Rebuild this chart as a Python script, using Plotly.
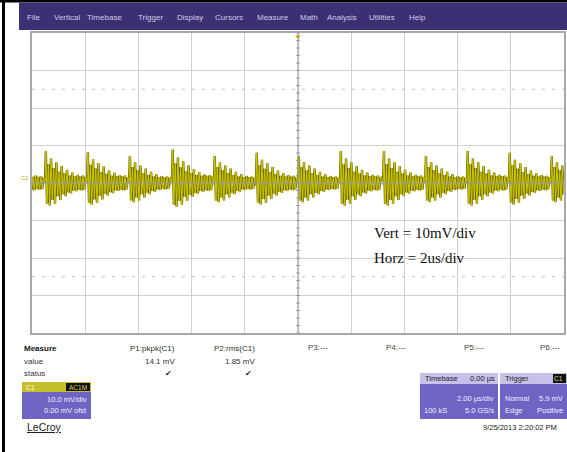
import plotly.graph_objects as go
import numpy as np

W, H = 567, 452

menu_items = ["File", "Vertical", "Timebase", "Trigger", "Display", "Cursors",
              "Measure", "Math", "Analysis", "Utilities", "Help"]
# burst (switching edge) times in microseconds
burst_times_us = [-11.09, -9.51, -7.93, -6.35, -4.74, -3.16, -1.58, 0.0,
                  1.58, 3.20, 4.78, 6.35, 7.93, 9.51]
burst_scale = [0.9, 1.0, 0.97, 0.85, 1.05, 0.85, 0.95, 0.85,
               1.0, 1.0, 0.85, 1.0, 0.95, 0.85]
# ringing after each edge: offset (ns) and amplitude (mV)
ring_dt_ns = [0, 30, 75, 125, 175, 225, 275, 325, 375, 425, 475, 525, 575, 625,
              675, 725, 775, 825, 875, 925, 975, 1025, 1075, 1125, 1175, 1225,
              1275, 1325, 1375, 1425, 1475, 1525]
ring_mV = [0.5, 8.5, -5.5, 5.0, -6.0, 6.5, -4.5, 4.0, -5.5, 5.5, -3.5, 3.0,
           -4.5, 4.5, -3.0, 2.5, -3.5, 3.5, -2.5, 2.0, -2.8, 2.8, -2.0, 1.8,
           -2.2, 2.2, -1.8, 1.8, -2.0, 2.0, -1.8, 1.6]

measure_names = ["P1:pkpk(C1)", "P2:rms(C1)"]
measure_values = ["14.1 mV", "1.85 mV"]
empty_params = ["P3:---", "P4:---", "P5:---", "P6:---"]

# build trace
t, v = [], []
for b, s in zip(burst_times_us, burst_scale):
    for dt, a in zip(ring_dt_ns, ring_mV):
        t.append(b + dt / 1000.0)
        v.append(a * s)

def px(x):
    return x / W

def py(y):
    return 1 - y / H

fig = go.Figure()
fig.add_trace(go.Scatter(x=t, y=v, mode="lines", line=dict(color="#6b6800", width=2.4),
                         hoverinfo="skip", showlegend=False))
fig.add_trace(go.Scatter(x=t, y=v, mode="lines", line=dict(color="#cdc700", width=1.0),
                         hoverinfo="skip", showlegend=False))
# trigger markers
fig.add_trace(go.Scatter(x=[0], y=[-42.5], mode="markers", cliponaxis=False,
                         marker=dict(symbol="triangle-up", size=6, color="#d2c000"),
                         showlegend=False, hoverinfo="skip"))
fig.add_trace(go.Scatter(x=[0], y=[39.0], mode="markers", cliponaxis=False,
                         marker=dict(symbol="triangle-down", size=5, color="#e0a000"),
                         showlegend=False, hoverinfo="skip"))

shapes = []
ann = []

# frame lines
shapes.append(dict(type="rect", xref="paper", yref="paper", x0=0, x1=1, y0=py(2.5), y1=py(0),
                   fillcolor="black", line=dict(width=0)))
shapes.append(dict(type="rect", xref="paper", yref="paper", x0=px(2), x1=px(5), y0=0, y1=1,
                   fillcolor="black", line=dict(width=0)))
# menu bar
shapes.append(dict(type="rect", xref="paper", yref="paper", x0=px(19), x1=1, y0=py(30), y1=py(2.5),
                   fillcolor="#3c2f73", line=dict(width=0)))
menu_x = [25, 52, 85, 136, 175, 213, 255, 298, 325, 367, 407]
for name, x in zip(menu_items, menu_x):
    ann.append(dict(text=name, x=px(x), y=py(17), xref="paper", yref="paper",
                    xanchor="left", yanchor="middle", showarrow=False,
                    font=dict(family="Liberation Sans", size=8, color="#cfcbe6")))

# dashed lines at +-25 mV
for yv in (25, -25):
    shapes.append(dict(type="line", xref="x", yref="y", x0=-10, x1=10, y0=yv, y1=yv,
                       line=dict(color="#bdbdbd", width=1, dash="3px,7px")))
# center lines
shapes.append(dict(type="line", xref="x", yref="y", x0=0, x1=0, y0=-40, y1=40,
                   line=dict(color="#9a9a9a", width=1)))
shapes.append(dict(type="line", xref="x", yref="y", x0=-10, x1=10, y0=0, y1=0,
                   line=dict(color="#9a9a9a", width=1)))
for yy in np.arange(-40, 40.01, 2):
    shapes.append(dict(type="line", xref="x", yref="y", x0=-0.07, x1=0.07, y0=yy, y1=yy,
                       line=dict(color="#9a9a9a", width=1)))
for xx in np.arange(-10, 10.01, 0.4):
    shapes.append(dict(type="line", xref="x", yref="y", x0=xx, x1=xx, y0=-0.8, y1=0.8,
                       line=dict(color="#9a9a9a", width=1)))

# C1 label
ann.append(dict(text="C1", x=px(19), y=py(178), xref="paper", yref="paper", xanchor="left",
                yanchor="middle", showarrow=False,
                font=dict(family="Liberation Sans", size=6, color="#b8b000")))

# annotation text on grid
ann.append(dict(text="Vert = 10mV/div", x=px(372), y=py(233), xref="paper", yref="paper",
                xanchor="left", yanchor="middle", showarrow=False,
                font=dict(family="Liberation Serif", size=15, color="#111")))
ann.append(dict(text="Horz = 2us/div", x=px(372), y=py(258), xref="paper", yref="paper",
                xanchor="left", yanchor="middle", showarrow=False,
                font=dict(family="Liberation Serif", size=15, color="#111")))

# measure table
def txt(s, x, y, anchor="left", size=8, color="#333", bold=False, family="Liberation Sans"):
    if bold:
        s = "<b>" + s + "</b>"
    ann.append(dict(text=s, x=px(x), y=py(y), xref="paper", yref="paper", xanchor=anchor,
                    yanchor="middle", showarrow=False,
                    font=dict(family=family, size=size, color=color)))

txt("Measure", 22, 348, bold=True, color="#111")
txt("value", 22, 361)
txt("status", 22, 373)
for name, val, xr in zip(measure_names, measure_values, [177, 257]):
    txt(name, xr, 348, anchor="right")
    txt(val, xr, 361, anchor="right")
    txt("✔", xr - 3, 373, anchor="right", size=8, color="#333")
for name, x in zip(empty_params, [306, 384, 462, 538]):
    txt(name, x, 347, color="#444")

# C1 box
shapes.append(dict(type="rect", xref="paper", yref="paper", x0=px(22), x1=px(91), y0=py(392), y1=py(382),
                   fillcolor="#c4c02a", line=dict(width=0)))
shapes.append(dict(type="rect", xref="paper", yref="paper", x0=px(66), x1=px(90), y0=py(391), y1=py(383),
                   fillcolor="#111", line=dict(width=0)))
shapes.append(dict(type="rect", xref="paper", yref="paper", x0=px(22), x1=px(91), y0=py(419), y1=py(392),
                   fillcolor="#6d64c4", line=dict(width=0)))
txt("C1", 24, 387, size=7, color="#fffbe0")
txt("AC1M", 89, 387, anchor="right", size=6.5, color="#d8d060")
txt("10.0 mV/div", 89, 399, anchor="right", size=7.5, color="#f0f0ff")
txt("0.00 mV ofst", 89, 410, anchor="right", size=7.5, color="#f0f0ff")

# Timebase box
shapes.append(dict(type="rect", xref="paper", yref="paper", x0=px(420), x1=px(498), y0=py(384), y1=py(373),
                   fillcolor="#c6c0ea", line=dict(width=0)))
shapes.append(dict(type="rect", xref="paper", yref="paper", x0=px(420), x1=px(498), y0=py(419), y1=py(384),
                   fillcolor="#6d64c4", line=dict(width=0)))
txt("Timebase", 423, 378.5, size=7.5, color="#222")
txt("0.00 µs", 497, 378.5, anchor="right", size=7.5, color="#222")
txt("2.00 µs/div", 496, 398, anchor="right", size=7.5, color="#f0f0ff")
txt("100 kS", 422, 410, size=7.5, color="#f0f0ff")
txt("5.0 GS/s", 496, 410, anchor="right", size=7.5, color="#f0f0ff")

# Trigger box
shapes.append(dict(type="rect", xref="paper", yref="paper", x0=px(500), x1=px(567), y0=py(384), y1=py(373),
                   fillcolor="#c6c0ea", line=dict(width=0)))
shapes.append(dict(type="rect", xref="paper", yref="paper", x0=px(553), x1=px(566), y0=py(383), y1=py(374),
                   fillcolor="#111", line=dict(width=0)))
shapes.append(dict(type="rect", xref="paper", yref="paper", x0=px(500), x1=px(567), y0=py(419), y1=py(384),
                   fillcolor="#6d64c4", line=dict(width=0)))
txt("Trigger", 503, 378.5, size=7.5, color="#222")
txt("C1", 565, 378.5, anchor="right", size=6.5, color="#e0d870")
txt("Normal", 503, 398, size=7.5, color="#f0f0ff")
txt("5.9 mV", 565, 398, anchor="right", size=7.5, color="#f0f0ff")
txt("Edge", 503, 410, size=7.5, color="#f0f0ff")
txt("Positive", 565, 410, anchor="right", size=7.5, color="#f0f0ff")

# footer
txt("<u>LeCroy</u>", 25, 427, size=10.5, color="#222")
txt("9/25/2013 2:20:02 PM", 559, 427, anchor="right", size=7.5, color="#222")

fig.update_layout(
    width=W, height=H, margin=dict(l=0, r=0, t=0, b=0),
    paper_bgcolor="white", plot_bgcolor="white",
    shapes=shapes, annotations=ann, showlegend=False,
    xaxis=dict(domain=[px(32), px(564)], range=[-10, 10], dtick=2, tick0=-10,
               showgrid=True, gridcolor="#d0d0d0", gridwidth=1, zeroline=False,
               showticklabels=False, ticks="", showline=True, mirror=True,
               linecolor="#a8a8a8", linewidth=2),
    yaxis=dict(domain=[py(333), py(33)], range=[-40, 40], dtick=10, tick0=-40,
               showgrid=True, gridcolor="#d0d0d0", gridwidth=1, zeroline=False,
               showticklabels=False, ticks="", showline=True, mirror=True,
               linecolor="#a8a8a8", linewidth=2),
)

fig.write_html("out.html", config={"displayModeBar": False},
               post_script="document.body.style.margin='0';document.body.style.overflow='hidden';")
